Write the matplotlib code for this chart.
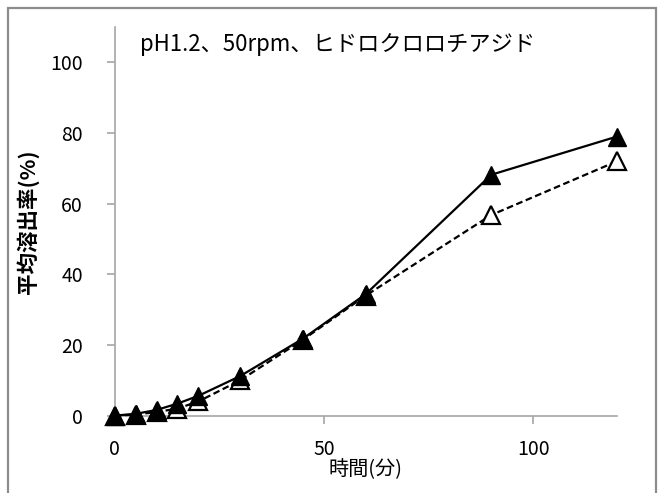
import matplotlib
matplotlib.use("Agg")
import matplotlib.pyplot as plt
from matplotlib.patches import Rectangle

plt.rcParams['font.family'] = ['Noto Sans CJK JP', 'DejaVu Sans']

# dissolution time points (min) and mean dissolution rate (%)
minutes = [0, 5, 10, 15, 20, 30, 45, 60, 90, 120]
test_product = [0, 0.5, 1.6, 3.4, 5.6, 11.2, 21.8, 34.4, 68.2, 79.0]
reference_product = [0, 0.3, 1.0, 2.0, 4.0, 10.0, 21.5, 34.0, 56.8, 72.0]

title_text = "pH1.2、50rpm、ヒドロクロロチアジド"
x_label = "時間(分)"
y_label = "平均溶出率(%)"

fig = plt.figure(figsize=(6.69, 4.93), dpi=100)
ax = fig.add_axes([0.1715, 0.157, 0.7505, 0.788])

ax.plot(minutes, reference_product, linestyle=(0, (3, 1.6)), color="black",
        linewidth=1.6, marker="^", markersize=13.5, markerfacecolor="white",
        markeredgecolor="black", markeredgewidth=1.6, clip_on=False, zorder=3)
ax.plot(minutes, test_product, linestyle="-", color="black", linewidth=1.6,
        marker="^", markersize=13.5, markerfacecolor="black",
        markeredgecolor="black", clip_on=False, zorder=4)

ax.set_xlim(0, 120)
ax.set_ylim(0, 110)
ax.set_xticks([0, 50, 100])
ax.set_yticks([0, 20, 40, 60, 80, 100])

for side in ("top", "right"):
    ax.spines[side].set_visible(False)
for side in ("left", "bottom"):
    ax.spines[side].set_color("#a6a6a6")
    ax.spines[side].set_linewidth(1.2)
ax.tick_params(axis="both", direction="out", length=6, width=1.2,
               color="#a6a6a6", labelsize=14, labelcolor="black")
ax.tick_params(axis="x", pad=11)
ax.tick_params(axis="y", pad=17)

ax.text(0.05, 0.955, title_text, transform=ax.transAxes, fontsize=16,
        ha="left", va="center")
ax.set_xlabel(x_label, fontsize=14.5, labelpad=-1)
ax.set_ylabel(y_label, fontsize=15.5, fontweight="bold", labelpad=8)

# outer chart frame, open at the bottom edge
fig.patches.append(Rectangle((8 / 669, -0.05), (656 - 8) / 669,
                             1.05 - 8 / 493, transform=fig.transFigure,
                             fill=False, edgecolor="#8c8c8c", linewidth=1.6))

fig.savefig("out.png", dpi=100)
